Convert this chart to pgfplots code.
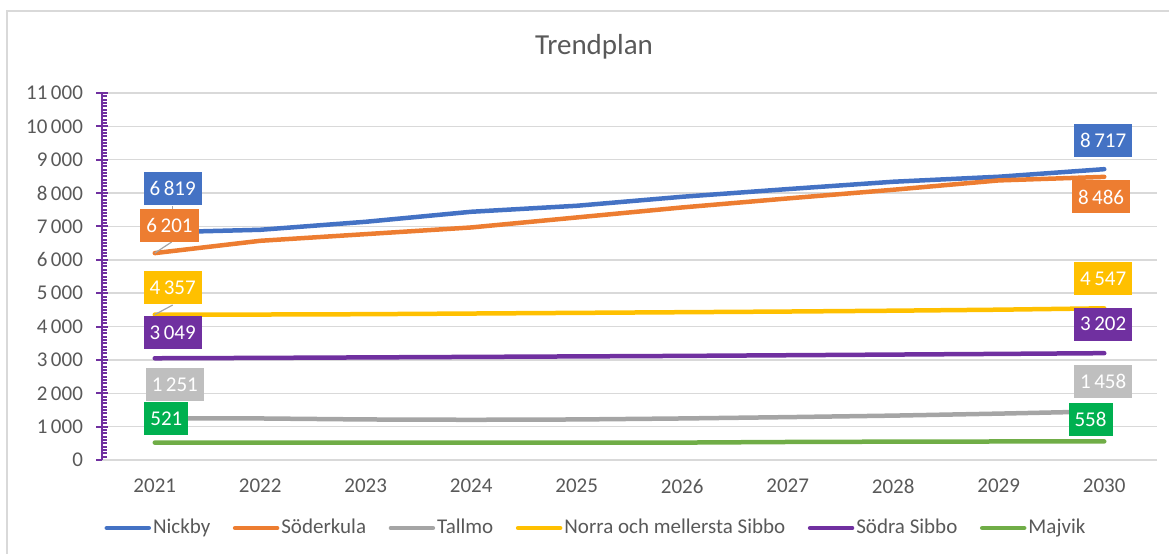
\documentclass[border=0pt]{standalone}
\usepackage{fontspec}
\setmainfont{Carlito}
\usepackage{pgfplots}
\pgfplotsset{compat=1.18}
\definecolor{nick}{HTML}{4472C4}
\definecolor{soder}{HTML}{ED7D31}
\definecolor{tall}{HTML}{A5A5A5}
\definecolor{tallbl}{HTML}{BFBFBF}
\definecolor{norra}{HTML}{FFC000}
\definecolor{sodra}{HTML}{7030A0}
\definecolor{maj}{HTML}{70AD47}
\definecolor{majlbl}{HTML}{00B050}
\definecolor{gridgray}{HTML}{D9D9D9}
\definecolor{tickgray}{HTML}{595959}

\begin{document}
\begin{tikzpicture}[
  lbl/.style={fill=#1, text=white, inner xsep=3pt, inner ysep=0pt,
    minimum height=16.5pt, font=\fontsize{10.5}{12}\selectfont},
  leader/.style={draw=tall, line width=0.6pt}]
\useasboundingbox (0,0) rectangle (584.5pt,276.5pt);
\draw[gridgray, line width=0.75pt] (3.5pt,-5pt) rectangle (590pt,271pt);
\node[text=tickgray, font=\fontsize{14.5}{17}\selectfont] at (297pt,253pt) {Trendplan};
\begin{axis}[
  at={(51pt,46.5pt)}, anchor=south west,
  scale only axis, width=527.5pt, height=183.5pt,
  xmin=2020.5, xmax=2030.5, ymin=0, ymax=11000,
  xtick={2021,2022,...,2030}, ytick={0,1000,...,11000},
  scaled y ticks=false,
  minor y tick num=9,
  /pgf/number format/assume math mode=true,
  xticklabel style={/pgf/number format/1000 sep=, yshift=-6pt},
  yticklabel style={/pgf/number format/1000 sep={\,}, xshift=-6pt},
  tick label style={font=\fontsize{10.5}{12}\selectfont, text=tickgray},
  axis x line*=bottom, axis y line*=left,
  axis line style={-},
  x axis line style={draw=gridgray, line width=0.75pt},
  y axis line style={draw=sodra, line width=1.3pt},
  ymajorgrids, major grid style={gridgray, line width=0.75pt},
  xtick style={draw=none},
  ytick style={sodra, line width=1pt},
  tick align=inside,
  major tick length=6pt, minor tick length=2.5pt,
  major tick style={xshift=-3pt},
  every axis plot/.append style={line width=2.25pt, line cap=round, line join=round, no markers},
  legend columns=6,
  legend style={at={(0.4682,-0.1853)}, anchor=center, draw=none, fill=none,
    font=\fontsize{10.5}{12}\selectfont, text=tickgray,
    nodes={inner sep=1pt},
    /tikz/every even column/.append style={column sep=10.3pt}},
  legend image code/.code={\draw[#1, line width=2.25pt, line cap=round] (0pt,0pt) -- (21pt,0pt);},
]
\addplot[nick] coordinates {(2021,6819) (2022,6900) (2023,7140) (2024,7440) (2025,7620) (2026,7890) (2027,8120) (2028,8340) (2029,8490) (2030,8717)};
\addlegendentry{Nickby}
\addplot[soder] coordinates {(2021,6201) (2022,6570) (2023,6770) (2024,6970) (2025,7270) (2026,7570) (2027,7840) (2028,8100) (2029,8380) (2030,8486)};
\addlegendentry{Söderkula}
\addplot[tall] coordinates {(2021,1251) (2022,1245) (2023,1215) (2024,1205) (2025,1215) (2026,1245) (2027,1285) (2028,1330) (2029,1390) (2030,1458)};
\addlegendentry{Tallmo}
\addplot[norra] coordinates {(2021,4357) (2022,4360) (2023,4370) (2024,4390) (2025,4410) (2026,4430) (2027,4450) (2028,4475) (2029,4505) (2030,4547)};
\addlegendentry{Norra och mellersta Sibbo}
\addplot[sodra] coordinates {(2021,3049) (2022,3060) (2023,3075) (2024,3090) (2025,3105) (2026,3120) (2027,3140) (2028,3160) (2029,3180) (2030,3202)};
\addlegendentry{Södra Sibbo}
\addplot[maj] coordinates {(2021,521) (2022,521) (2023,521) (2024,521) (2025,521) (2026,522) (2027,540) (2028,550) (2029,555) (2030,558)};
\addlegendentry{Majvik}
% leader lines for the 2021 labels
\draw[leader] (axis cs:2021,6201) -- (axis cs:2021.16,6534);
\draw[leader] (axis cs:2021,4357) -- (axis cs:2021.17,4645);
\draw[leader] (axis cs:2021.17,7300) -- (axis cs:2021.17,7600);
\draw[leader] (axis cs:2021.19,1700) -- (axis cs:2021.19,1750);
% data labels, first and last year
\node[lbl=nick]   at (axis cs:2021.17,8138) {6\,819};
\node[lbl=soder]  at (axis cs:2021.14,7029) {6\,201};
\node[lbl=norra]  at (axis cs:2021.17,5170) {4\,357};
\node[lbl=sodra]  at (axis cs:2021.17,3821) {3\,049};
\node[lbl=tallbl] at (axis cs:2021.19,2248) {1\,251};
\node[lbl=majlbl] at (axis cs:2021.11,1229) {521};
\node[lbl=nick]   at (axis cs:2029.99,9582) {8\,717};
\node[lbl=soder]  at (axis cs:2029.97,7883) {8\,486};
\node[lbl=norra]  at (axis cs:2029.99,5434) {4\,547};
\node[lbl=sodra]  at (axis cs:2029.99,4070) {3\,202};
\node[lbl=tallbl] at (axis cs:2029.99,2344) {1\,458};
\node[lbl=majlbl] at (axis cs:2029.87,1208) {558};
\end{axis}
\end{tikzpicture}
\end{document}
